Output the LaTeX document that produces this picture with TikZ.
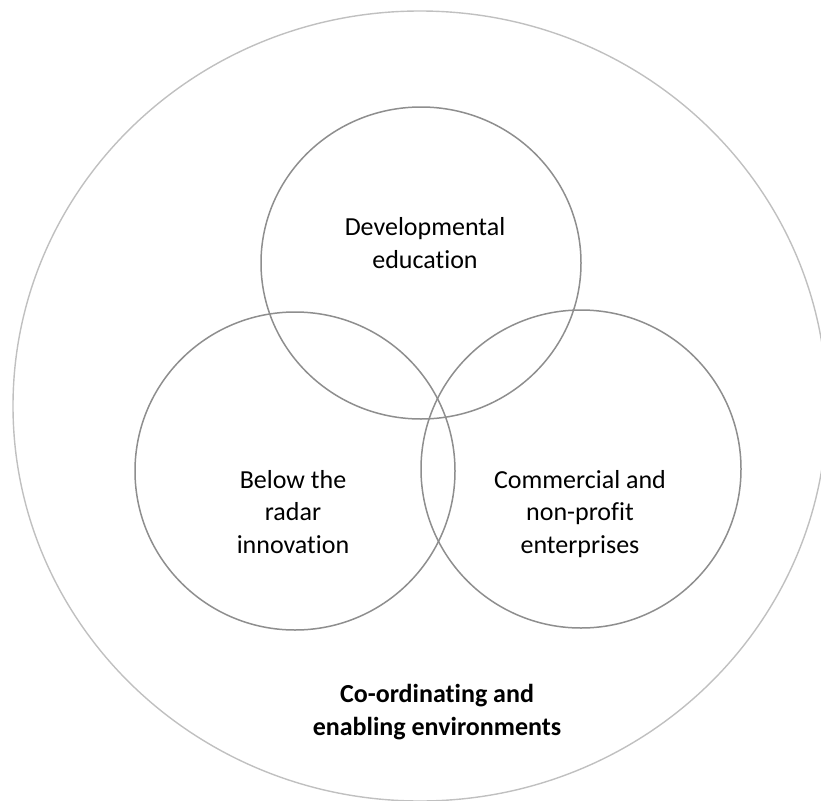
\documentclass[tikz,border=0pt]{standalone}
\usepackage{fontspec}
\setmainfont{Carlito}[Ligatures={NoCommon}]
\usetikzlibrary{shapes.geometric}
\definecolor{outergray}{HTML}{C0C0C0}
\definecolor{innergray}{HTML}{8E8E8E}
\begin{document}
\begin{tikzpicture}[x=1pt,y=1pt,
  ring/.style={draw=innergray, line width=1.5pt, ellipse, inner sep=0pt},
  outerring/.style={draw=outergray, line width=1.4pt, ellipse, inner sep=0pt},
  lbl/.style={align=center, font=\fontsize{26}{32.5}\selectfont, anchor=base, inner sep=0pt},
  boldlbl/.style={lbl, font=\fontsize{26}{32.5}\selectfont\bfseries}]
\useasboundingbox (0,0) rectangle (821,-800);
\node[outerring, minimum width=814pt, minimum height=790pt] (outer) at (420,-406) {};
\node[ring, minimum width=320pt, minimum height=312pt] (top) at (421,-263) {};
\node[ring, minimum width=320pt, minimum height=318pt] (left) at (295,-471) {};
\node[ring, minimum width=320pt, minimum height=318pt] (right) at (581,-469) {};
\node[lbl] (toplbl) at (425,-268) {Developmental\\education};
\node[lbl] (leftlbl) at (293,-553) {Below the\\radar\\innovation};
\node[lbl] (rightlbl) at (580,-553) {Commercial and\\non-profit\\enterprises};
\node[boldlbl] (outerlbl) at (437,-735) {Co-ordinating and\\enabling environments};
\end{tikzpicture}
\end{document}
